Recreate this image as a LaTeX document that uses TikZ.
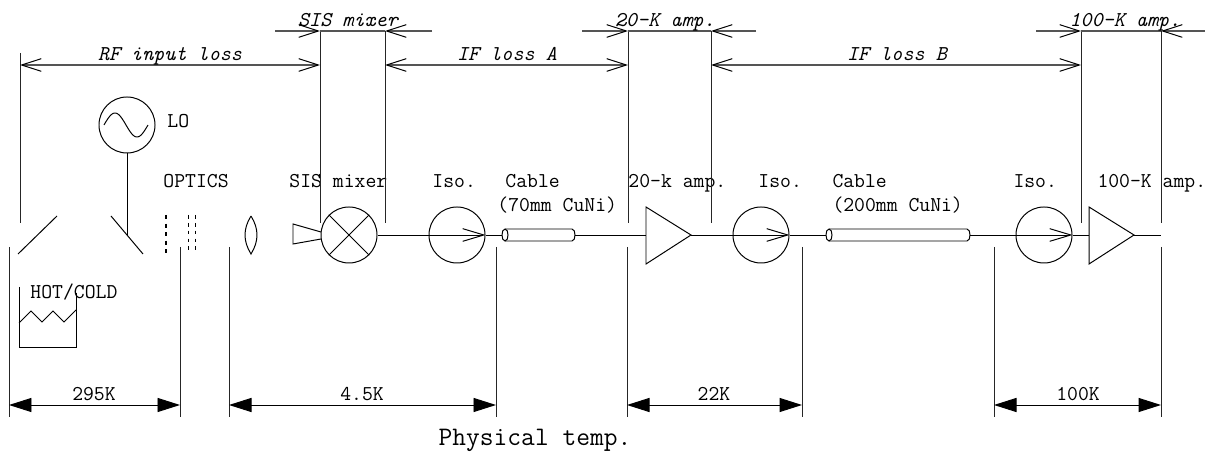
\documentclass[tikz,border=0pt]{standalone}
\usepackage{tikz}
\usetikzlibrary{arrows.meta, positioning, calc}
\definecolor{dimgray}{RGB}{85,85,85}

\begin{document}
\begin{tikzpicture}[x=0.025cm,y=-0.025cm,line width=0.7pt,
    txt/.style={font=\ttfamily\fontsize{15}{17}\selectfont,inner sep=0pt},
    itxt/.style={font=\ttfamily\itshape\fontsize{15}{17}\selectfont,inner sep=0pt},
    ttxt/.style={font=\ttfamily\fontsize{15}{17}\selectfont,inner sep=0pt},
    ring/.style={circle,draw,minimum size=1.4cm,inner sep=0pt},
    dimline/.style={draw=dimgray,line width=1.2pt},
    extline/.style={draw=black!85,line width=0.6pt},
    biarr/.style={{Straight Barb[length=14pt,width=9pt,line width=0.7pt,color=black]}-{Straight Barb[length=14pt,width=9pt,line width=0.7pt,color=black]}},
    toarr/.style={-{Straight Barb[length=14pt,width=9pt,line width=0.7pt,color=black]}},
    isoarr/.style={-{Straight Barb[length=15pt,width=9pt]}},
    tempdim/.style={{Triangle[length=16pt,width=10pt]}-{Triangle[length=16pt,width=10pt]}}]
    \useasboundingbox (0,0) rectangle (1205,464);

    % LO and mirrors
    \node[ring] (lo) at (127,125) {};
    \draw[domain=0:1,samples=40,smooth] plot ({104+44*\x},{125-12*sin(360*\x)});
    \node[txt,anchor=base west] (lolbl) at (167,128) {LO};
    \coordinate (lohit) at (127,235);
    \draw (lo.south) -- (lohit);
    \draw (111,216) -- (143,254);
    \draw (18,254) -- (57,216);

    % HOT/COLD load
    \node[txt,anchor=base west] (hclbl) at (30,299) {HOT/COLD};
    \draw (19,287) -- (19,347) -- (76,347) -- (76,293);
    \draw (19,323) -- (31,311) -- (42,322) -- (53,311) -- (64,322) -- (76,310);

    % Optics
    \node[txt,anchor=base west] (optlbl) at (163,188) {OPTICS};
    \draw[line width=2pt,dash pattern=on 2.9pt off 3.2pt] (166,215) -- (166,253);
    \draw[dash pattern=on 2.6pt off 3pt] (188,215) -- (188,253);
    \draw[dash pattern=on 2.6pt off 3pt] (195,215) -- (195,253);
    \draw (251,216) .. controls (243,229) and (243,241) .. (251,254)
                    .. controls (259,241) and (259,229) .. (251,216);

    % SIS mixer
    \node[ring] (mix) at (349,235) {};
    \draw (mix.north west) -- (mix.south east) (mix.north east) -- (mix.south west);
    \draw (321,232) -- (293,224) -- (293,244) -- (321,239);
    \node[txt,anchor=base west] (mixlbl) at (289,188) {SIS mixer};

    % Isolators
    \node[ring] (iso1) at (457,235) {};
    \node[ring] (iso2) at (761,235) {};
    \node[ring] (iso3) at (1044,235) {};
    \node[txt,anchor=base west] (iso1lbl) at (432,188) {Iso.};
    \node[txt,anchor=base west] (iso2lbl) at (758,188) {Iso.};
    \node[txt,anchor=base west] (iso3lbl) at (1013,188) {Iso.};

    % Cables
    \coordinate (cab1in) at (502,235);
    \coordinate (cab1out) at (575,235);
    \draw (505,229) -- (572,229) .. controls (576,229) and (576,241) .. (572,241) -- (505,241);
    \draw (505,229) .. controls (501,229) and (501,241) .. (505,241)
                    .. controls (509,241) and (509,229) .. (505,229);
    \node[txt,anchor=base west] (cab1lbl) at (505,188) {Cable};
    \node[txt,anchor=base west] (cab1sub) at (497,212) {(70mm CuNi)};
    \coordinate (cab2in) at (826,235);
    \coordinate (cab2out) at (970,235);
    \draw (829,229) -- (967,229) .. controls (971,229) and (971,241) .. (967,241) -- (829,241);
    \draw (829,229) .. controls (825,229) and (825,241) .. (829,241)
                    .. controls (833,241) and (833,229) .. (829,229);
    \node[txt,anchor=base west] (cab2lbl) at (832,188) {Cable};
    \node[txt,anchor=base west] (cab2sub) at (832,212) {(200mm CuNi)};

    % Amplifiers
    \coordinate (amp1in) at (646,235);
    \coordinate (amp1out) at (691,235);
    \draw (646,207) -- (amp1out) -- (646,264) -- cycle;
    \node[txt,anchor=base west] (amp1lbl) at (628,188) {20-k amp.};
    \coordinate (amp2in) at (1089,235);
    \coordinate (amp2out) at (1134,235);
    \draw (1089,207) -- (amp2out) -- (1089,264) -- cycle;
    \node[txt,anchor=base west] (amp2lbl) at (1097,188) {100-K amp.};
    \coordinate (ifout) at (1161,235);

    % Signal path
    \draw[isoarr] (mix.east) -- (iso1.east);
    \draw (iso1.east) -- (cab1in);
    \draw (cab1out) -- (amp1in);
    \draw[isoarr] (amp1out) -- (iso2.east);
    \draw (iso2.east) -- (cab2in);
    \draw[isoarr] (cab2out) -- (iso3.east);
    \draw (iso3.east) -- (amp2in);
    \draw (amp2out) -- (ifout);

    % Loss boundaries
    \draw[extline] (20,53) -- (20,223);
    \foreach \xb in {320,385,628,711,1081,1161}
        \draw[extline] (\xb,31) -- (\xb,223);

    % Loss dimensions
    \draw[dimline,biarr] (20,65) -- (320,65);
    \node[itxt,anchor=base] (rflbl) at (170,61) {RF input loss};
    \draw[dimline,biarr] (385,65) -- (628,65);
    \node[itxt,anchor=base] (ifalbl) at (507,61) {IF loss A};
    \draw[dimline,biarr] (711,65) -- (1081,65);
    \node[itxt,anchor=base] (ifblbl) at (897,61) {IF loss B};

    \draw[dimline,toarr] (275,31) -- (320,31);
    \draw[dimline] (320,31) -- (385,31);
    \draw[dimline,toarr] (432,31) -- (385,31);
    \node[itxt,anchor=base] (mixdim) at (348,27) {SIS mixer};
    \draw[dimline,toarr] (582,31) -- (628,31);
    \draw[dimline] (628,31) -- (711,31);
    \draw[dimline,toarr] (756,31) -- (711,31);
    \node[itxt,anchor=base] (amp1dim) at (665,27) {20-K amp.};
    \draw[dimline,toarr] (1036,31) -- (1081,31);
    \draw[dimline] (1081,31) -- (1161,31);
    \draw[dimline,toarr] (1205,31) -- (1161,31);
    \node[itxt,anchor=base] (amp2dim) at (1125,27) {100-K amp.};

    % Physical temperature
    \foreach \xb in {9,180,229,496,627,802,994,1161}
        \draw[extline] (\xb,247) -- (\xb,417);
    \draw[tempdim] (9,405) -- (180,405);
    \node[ttxt,anchor=base] (t295) at (94,401) {295K};
    \draw[tempdim] (229,405) -- (496,405);
    \node[ttxt,anchor=base] (t45) at (362,401) {4.5K};
    \draw[tempdim] (627,405) -- (802,405);
    \node[ttxt,anchor=base] (t22) at (714,401) {22K};
    \draw[tempdim] (994,405) -- (1161,405);
    \node[ttxt,anchor=base] (t100) at (1078,401) {100K};
    \node[font=\ttfamily\fontsize{19}{21}\selectfont,inner sep=0pt,anchor=base] (ptemp) at (535,446) {Physical temp.};
\end{tikzpicture}
\end{document}
